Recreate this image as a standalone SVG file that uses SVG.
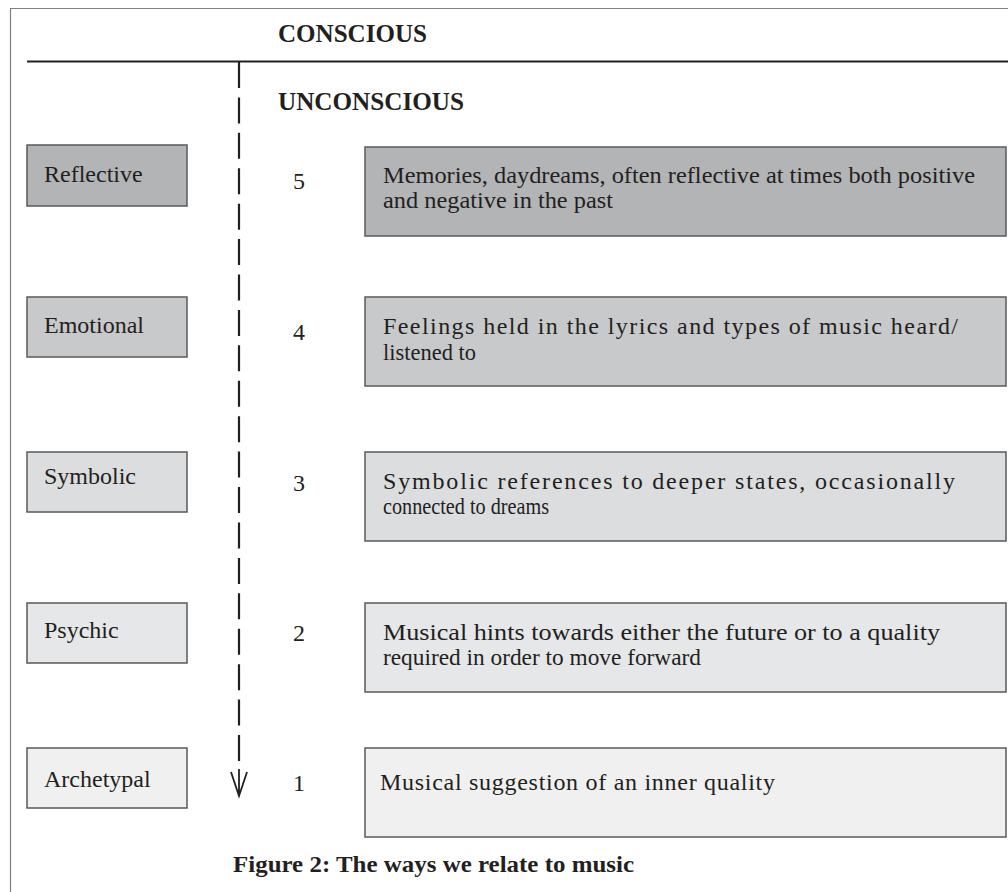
<svg xmlns="http://www.w3.org/2000/svg" width="1008" height="892" viewBox="0 0 1008 892">
<style>
.t{font-family:"Liberation Serif","Times New Roman",serif;font-size:24px;fill:#231f20}
.b{font-family:"Liberation Serif","Times New Roman",serif;font-weight:bold;fill:#231f20}
.box{stroke:#5a5a5a;stroke-width:1.5}
.f5{fill:#b3b4b6}.f4{fill:#c8c9cb}.f3{fill:#dcdddf}.f2{fill:#e6e7e8}.f1{fill:#f0f0f0}
</style>
<rect width="1008" height="892" fill="#ffffff"/>
<path d="M10.5 892 V8.5 H1008" fill="none" stroke="#808080" stroke-width="1.2"/>
<line x1="27" y1="61.5" x2="1008" y2="61.5" stroke="#231f20" stroke-width="2.2"/>
<text class="b" x="278" y="42" font-size="25" textLength="149" lengthAdjust="spacingAndGlyphs">CONSCIOUS</text>
<text class="b" x="278" y="110" font-size="25" textLength="186" lengthAdjust="spacingAndGlyphs">UNCONSCIOUS</text>
<g id="connectors">
<line x1="239" y1="62" x2="239" y2="762" stroke="#231f20" stroke-width="2.2" stroke-dasharray="26 9.42"/>
<path d="M239 769 V796 M231 772 L239 796 L247 772" fill="none" stroke="#231f20" stroke-width="1.8"/>
</g>
<g id="reflective"><rect class="box f5" x="27" y="145" width="160" height="61"/><text class="t" x="44" y="182">Reflective</text></g>
<g id="emotional"><rect class="box f4" x="27" y="297" width="160" height="60"/><text class="t" x="44" y="333">Emotional</text></g>
<g id="symbolic"><rect class="box f3" x="27" y="452" width="160" height="60"/><text class="t" x="44" y="484">Symbolic</text></g>
<g id="psychic"><rect class="box f2" x="27" y="603" width="160" height="60"/><text class="t" x="44" y="638">Psychic</text></g>
<g id="archetypal"><rect class="box f1" x="27" y="748" width="160" height="60"/><text class="t" x="44" y="787">Archetypal</text></g>
<g id="n5"><text class="t" x="293" y="189" font-size="25">5</text></g>
<g id="n4"><text class="t" x="293" y="340" font-size="25">4</text></g>
<g id="n3"><text class="t" x="293" y="491" font-size="25">3</text></g>
<g id="n2"><text class="t" x="293" y="641" font-size="25">2</text></g>
<g id="n1"><text class="t" x="293" y="791" font-size="25">1</text></g>
<g id="d5"><rect class="box f5" x="365" y="147" width="641" height="89"/>
<text class="t" x="383" y="183" textLength="592" lengthAdjust="spacingAndGlyphs">Memories, daydreams, often reflective at times both positive</text>
<text class="t" x="383" y="208" textLength="230" lengthAdjust="spacingAndGlyphs">and negative in the past</text></g>
<g id="d4"><rect class="box f4" x="365" y="297" width="641" height="89"/>
<text class="t" x="383" y="334" textLength="575">Feelings held in the lyrics and types of music heard/</text>
<text class="t" x="383" y="360" textLength="93" lengthAdjust="spacingAndGlyphs">listened to</text></g>
<g id="d3"><rect class="box f3" x="365" y="452" width="641" height="89"/>
<text class="t" x="383" y="489" textLength="572">Symbolic references to deeper states, occasionally</text>
<text class="t" x="383" y="514" textLength="166" lengthAdjust="spacingAndGlyphs">connected to dreams</text></g>
<g id="d2"><rect class="box f2" x="365" y="603" width="641" height="89"/>
<text class="t" x="383" y="640" textLength="557" lengthAdjust="spacingAndGlyphs">Musical hints towards either the future or to a quality</text>
<text class="t" x="383" y="665" textLength="318" lengthAdjust="spacingAndGlyphs">required in order to move forward</text></g>
<g id="d1"><rect class="box f1" x="365" y="748" width="641" height="89"/>
<text class="t" x="380" y="790" textLength="395">Musical suggestion of an inner quality</text></g>
<text class="b" x="233" y="872" font-size="24" textLength="401" lengthAdjust="spacingAndGlyphs">Figure 2: The ways we relate to music</text>
</svg>
